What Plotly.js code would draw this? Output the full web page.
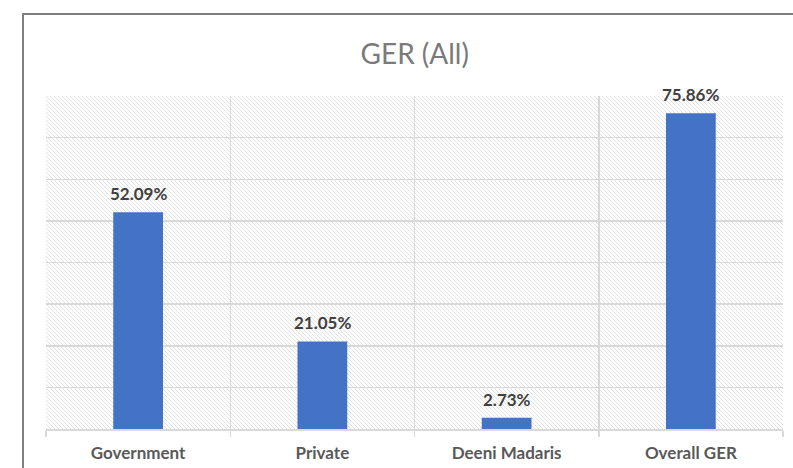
<!DOCTYPE html>
<html>
<head>
<meta charset="utf-8">
<script src="https://cdn.plot.ly/plotly-3.0.1.min.js"></script>
<style>
  html, body { margin: 0; padding: 0; background: #ffffff; }
  #wrap { position: relative; width: 793px; height: 468px; overflow: hidden; }
  #chart { position: absolute; left: 0; top: 0; width: 793px; height: 468px; }
  #frame { position: absolute; left: 22px; top: 13px; width: 820px; height: 520px;
           border-left: 2px solid #7f7f7f; border-top: 2px solid #7f7f7f; pointer-events: none; }
</style>
</head>
<body>
<div id="wrap">
  <div id="chart"></div>
  <div id="frame"></div>
</div>
<script>
const categories = ["Government", "Private", "Deeni Madaris", "Overall GER"];
const values = [52.09, 21.05, 2.73, 75.86];
const valueLabels = ["52.09%", "21.05%", "2.73%", "75.86%"];

const hatchSvg =
  '<svg xmlns="http://www.w3.org/2000/svg" width="737" height="333" preserveAspectRatio="none">' +
  '<defs><pattern id="p" patternUnits="userSpaceOnUse" width="4" height="4">' +
  '<path d="M-1,-1 L5,5 M-1,3 L1,5 M3,-1 L5,1" stroke="#e2e2e2" stroke-width="1"/>' +
  '</pattern></defs><rect width="100%" height="100%" fill="#ffffff"/>' +
  '<rect width="100%" height="100%" fill="url(#p)"/></svg>';
const hatchUri = 'data:image/svg+xml;charset=utf-8,' + encodeURIComponent(hatchSvg);

const trace = {
  type: 'bar',
  x: categories,
  y: values,
  marker: { color: '#4472C4' },
  width: 0.27,
  hoverinfo: 'none'
};

const annotations = categories.map((c, i) => ({
  x: c, y: values[i], xref: 'x', yref: 'y',
  text: '<b>' + valueLabels[i] + '</b>',
  showarrow: false, yanchor: 'bottom', yshift: 6,
  font: { family: 'Lato, "Open Sans", sans-serif', size: 17, color: '#404040' }
}));

const layout = {
  width: 793, height: 468,
  margin: { l: 46, r: 10, t: 96, b: 39 },
  paper_bgcolor: 'rgba(0,0,0,0)',
  plot_bgcolor: 'rgba(0,0,0,0)',
  title: {
    text: 'GER (All)',
    font: { family: 'Lato, "Open Sans", sans-serif', size: 28, color: '#7a7a7a' },
    x: 0.523, xanchor: 'center', y: 0.885, yanchor: 'middle'
  },
  showlegend: false,
  xaxis: {
    type: 'category',
    tickson: 'boundaries',
    showgrid: true, gridcolor: '#d9d9d9', gridwidth: 1.5,
    ticks: 'outside', ticklen: 6, tickcolor: '#d9d9d9', tickwidth: 1.5,
    showline: true, linecolor: '#d9d9d9', linewidth: 1.5,
    ticklabelstandoff: 8,
    tickfont: { family: 'Lato, "Open Sans", sans-serif', size: 17, color: '#595959', weight: 'bold' },
    fixedrange: true
  },
  yaxis: {
    range: [0, 80], dtick: 10,
    showgrid: true, gridcolor: '#d9d9d9', gridwidth: 1.5,
    showticklabels: false, zeroline: false,
    fixedrange: true
  },
  images: [{
    source: hatchUri, xref: 'paper', yref: 'paper',
    x: 0, y: 1, sizex: 1, sizey: 1, xanchor: 'left', yanchor: 'top',
    sizing: 'stretch', layer: 'below'
  }],
  annotations: annotations
};

Plotly.newPlot('chart', [trace], layout, { displayModeBar: false, staticPlot: true });
</script>
</body>
</html>
